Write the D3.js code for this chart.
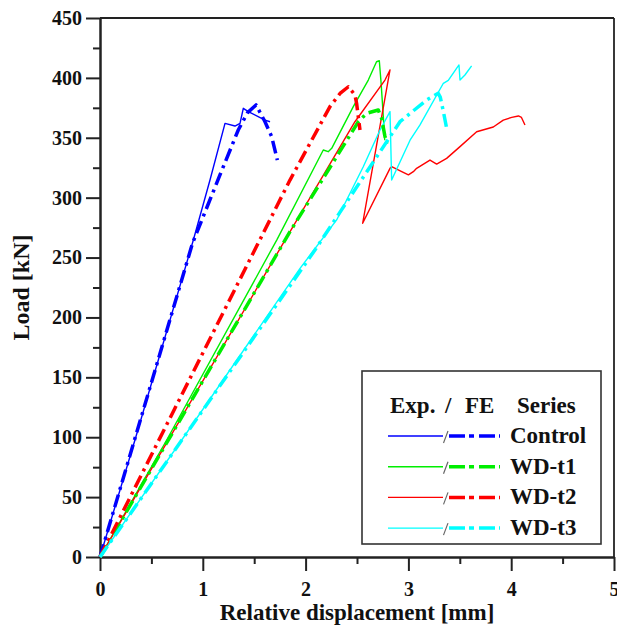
<!DOCTYPE html>
<html>
<head>
<meta charset="utf-8">
<script src="https://cdn.jsdelivr.net/npm/d3@7"></script>
<style>
  html, body { margin: 0; padding: 0; background: #fff; }
  svg { display: block; }
  text { font-family: "Liberation Serif", "Times New Roman", serif; font-weight: bold; fill: #111; }
</style>
</head>
<body>
<svg id="chart" width="617" height="629"></svg>
<script>
// ---------- DATA ----------
const seriesNames = ["Control", "WD-t1", "WD-t2", "WD-t3"];
const seriesColors = ["#0000ff", "#00ee00", "#ff0000", "#00ffff"];

// Experimental curves (displacement mm, load kN)
const controlExpX = [0, 0.34, 0.908, 1.07, 1.216, 1.313, 1.362, 1.394, 1.443, 1.605, 1.654];
const controlExpY = [0, 97.7, 264.6, 314.7, 362, 359.8, 362, 374.6, 371.8, 364.8, 363.4];
const wdt1ExpX = [0, 0.649, 1.719, 2.172, 2.22, 2.254, 2.464, 2.61, 2.69, 2.717, 2.735, 2.756, 2.77];
const wdt1ExpY = [0, 97.7, 264.6, 339.8, 338.4, 341.2, 376, 398.2, 413.5, 414.3, 395, 367.6, 348];
const wdt2ExpX = [0, 1.8, 2.48, 2.772, 2.821, 2.555, 2.821, 2.837, 2.935, 3.0, 3.048, 3.08, 3.21, 3.275, 3.372, 3.502, 3.664, 3.826, 3.923, 4.005, 4.07, 4.1, 4.134];
const wdt2ExpY = [0, 264.6, 363.4, 398.2, 406.6, 278.6, 324.5, 325.9, 321.7, 319, 321.7, 324.5, 331.4, 328, 332.8, 342.6, 355, 359, 364.8, 367, 368.2, 367, 360.6];
const wdt3ExpX = [0, 0.795, 1.946, 2.302, 2.561, 2.724, 2.821, 2.837, 3.016, 3.113, 3.34, 3.388, 3.492, 3.502, 3.55, 3.615];
const wdt3ExpY = [0, 97.7, 241, 281.4, 325.8, 356.5, 371.8, 314.7, 348, 360.7, 395.5, 398, 410.8, 398.2, 402.4, 410];

// FE curves
const controlFeX = [0, 0.9, 1.167, 1.345, 1.436, 1.518, 1.605, 1.67, 1.725];
const controlFeY = [0, 262, 319, 356.5, 371, 377.4, 363.4, 351, 331.4];
const wdt1FeX = [0, 1.848, 2.513, 2.594, 2.707, 2.74, 2.77, 2.79];
const wdt1FeY = [0, 271.6, 363.4, 370.4, 373.2, 366, 352, 345];
const wdt2FeX = [0, 1.848, 2.237, 2.335, 2.416, 2.48, 2.496, 2.529];
const wdt2FeY = [0, 314.7, 376, 387, 392.6, 385.7, 378.8, 356.5];
const wdt3FeX = [0, 2.091, 2.918, 3.178, 3.29, 3.31, 3.34, 3.372];
const wdt3FeY = [0, 256.3, 363.4, 381.6, 387.1, 384, 372, 357.9];

const xTicks = [0, 1, 2, 3, 4, 5];
const xMinorTicks = [0.5, 1.5, 2.5, 3.5, 4.5];
const yTicks = [0, 50, 100, 150, 200, 250, 300, 350, 400, 450];
const yMinorTicks = [25, 75, 125, 175, 225, 275, 325, 375, 425];

const expData = [[controlExpX, controlExpY], [wdt1ExpX, wdt1ExpY], [wdt2ExpX, wdt2ExpY], [wdt3ExpX, wdt3ExpY]];
const feData = [[controlFeX, controlFeY], [wdt1FeX, wdt1FeY], [wdt2FeX, wdt2FeY], [wdt3FeX, wdt3FeY]];

// ---------- LAYOUT ----------
const L = 100, R = 614, T = 18, B = 557;
const svg = d3.select("#chart");
const x = d3.scaleLinear().domain([0, 5]).range([L, R]);
const y = d3.scaleLinear().domain([0, 450]).range([B, T]);
const axisColor = "#222";

// frame top/right
svg.append("line").attr("x1", L).attr("x2", R).attr("y1", T).attr("y2", T)
  .attr("stroke", axisColor).attr("stroke-width", 1.8);
svg.append("line").attr("x1", R).attr("x2", R).attr("y1", T).attr("y2", B)
  .attr("stroke", axisColor).attr("stroke-width", 1.8);

// minor ticks
svg.append("g").attr("transform", `translate(${L},0)`)
  .call(d3.axisLeft(y).tickValues(yMinorTicks).tickSize(7).tickFormat(""))
  .call(g => g.select(".domain").remove())
  .call(g => g.selectAll("line").attr("stroke", axisColor).attr("stroke-width", 2));
svg.append("g").attr("transform", `translate(0,${B})`)
  .call(d3.axisBottom(x).tickValues(xMinorTicks).tickSize(7).tickFormat(""))
  .call(g => g.select(".domain").remove())
  .call(g => g.selectAll("line").attr("stroke", axisColor).attr("stroke-width", 2));

// major axes
const yAxisG = svg.append("g").attr("transform", `translate(${L},0)`)
  .call(d3.axisLeft(y).tickValues(yTicks).tickSize(14).tickSizeOuter(0).tickPadding(4).tickFormat(d3.format("d")));
const xAxisG = svg.append("g").attr("transform", `translate(0,${B})`)
  .call(d3.axisBottom(x).tickValues(xTicks).tickSize(14).tickSizeOuter(0).tickPadding(11).tickFormat(d3.format("d")));
[yAxisG, xAxisG].forEach(g => {
  g.select(".domain").attr("stroke", axisColor).attr("stroke-width", 2.5);
  g.selectAll(".tick line").attr("stroke", axisColor).attr("stroke-width", 2);
  g.selectAll(".tick text").attr("font-family", '"Liberation Serif", serif')
    .attr("font-weight", "bold").attr("font-size", 20).attr("fill", "#111");
});

// axis titles
svg.append("text").attr("transform", `translate(29,${(T + B) / 2}) rotate(-90)`)
  .attr("text-anchor", "middle").attr("font-size", 24).text("Load [kN]");
svg.append("text").attr("x", (L + R) / 2).attr("y", 620)
  .attr("text-anchor", "middle").attr("font-size", 23).text("Relative displacement [mm]");

// ---------- CURVES ----------
const line = d3.line().x(d => x(d[0])).y(d => y(d[1]));
const plot = svg.append("g");
expData.forEach((s, i) => {
  const pts = s[0].map((v, k) => [v, s[1][k]]);
  plot.append("path").attr("d", line(pts)).attr("fill", "none")
    .attr("stroke", seriesColors[i]).attr("stroke-width", 1.4).attr("stroke-linejoin", "round");
});
const dashFE = "13,5,3,5";
feData.forEach((s, i) => {
  const pts = s[0].map((v, k) => [v, s[1][k]]);
  plot.append("path").attr("d", line(pts)).attr("fill", "none")
    .attr("stroke", seriesColors[i]).attr("stroke-width", 3.5)
    .attr("stroke-dasharray", dashFE).attr("stroke-linejoin", "round");
});

// ---------- LEGEND ----------
const lg = svg.append("g");
lg.append("rect").attr("x", 362).attr("y", 371).attr("width", 239).attr("height", 173)
  .attr("fill", "#fff").attr("stroke", "#333").attr("stroke-width", 1.6);
lg.append("text").attr("x", 390).attr("y", 413).attr("font-size", 23).text("Exp.");
lg.append("text").attr("x", 445).attr("y", 413).attr("font-size", 23).text("/");
lg.append("text").attr("x", 465).attr("y", 413).attr("font-size", 23).text("FE");
lg.append("text").attr("x", 517).attr("y", 413).attr("font-size", 23).text("Series");
seriesNames.forEach((name, i) => {
  const base = 443 + i * 30.7;
  const cy = base - 7;
  lg.append("line").attr("x1", 388).attr("x2", 443).attr("y1", cy).attr("y2", cy)
    .attr("stroke", seriesColors[i]).attr("stroke-width", 1.4);
  lg.append("line").attr("x1", 443.5).attr("x2", 448).attr("y1", cy + 7).attr("y2", cy - 5)
    .attr("stroke", "#666").attr("stroke-width", 1.2);
  lg.append("line").attr("x1", 449).attr("x2", 500).attr("y1", cy).attr("y2", cy)
    .attr("stroke", seriesColors[i]).attr("stroke-width", 3.5).attr("stroke-dasharray", "16,4,5,5");
  lg.append("text").attr("x", 510).attr("y", base).attr("font-size", 23).text(name);
});
</script>
</body>
</html>
